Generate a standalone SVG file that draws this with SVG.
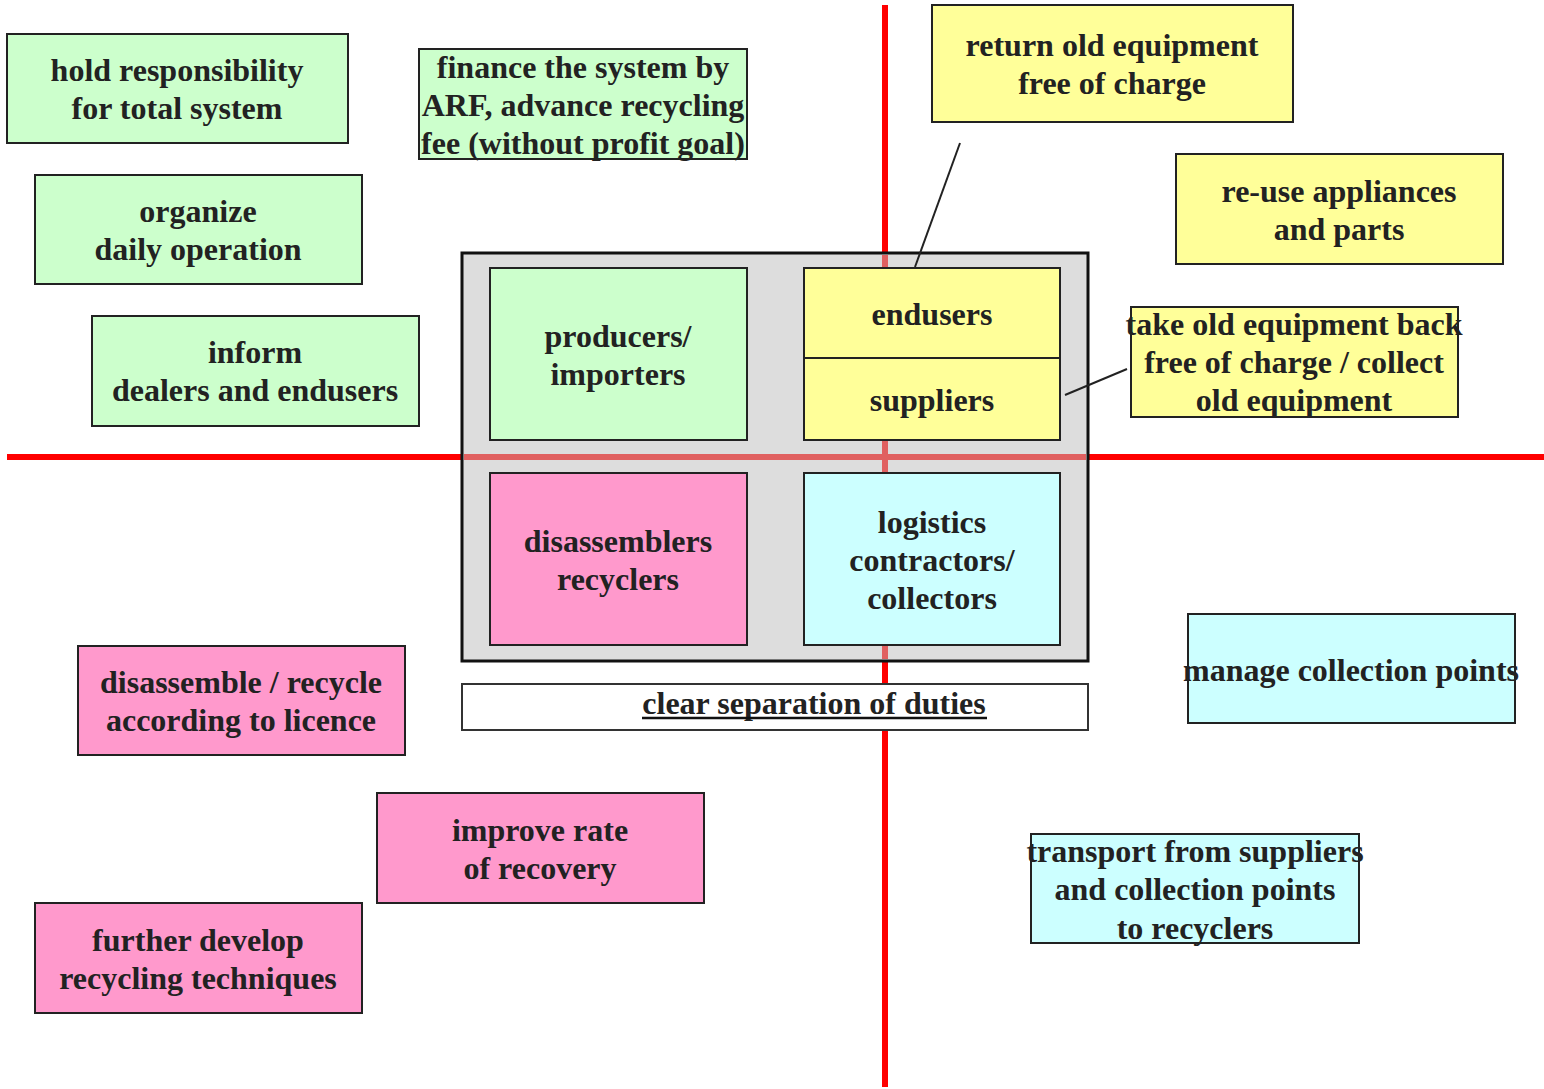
<svg xmlns="http://www.w3.org/2000/svg" width="1544" height="1089" viewBox="0 0 1544 1089">
<style>
.t{font-family:"Liberation Serif","Times New Roman",serif;font-weight:bold;font-size:32px;fill:#222;text-anchor:middle}
.box{stroke:#222;stroke-width:2}
.g{fill:#ccffcc}.y{fill:#ffff99}.p{fill:#ff99cc}.c{fill:#ccffff}
.red{stroke:#ff0000;stroke-width:6}
.redi{stroke:#e06060;stroke-width:6}
.con{stroke:#222;stroke-width:2;fill:none}
</style>
<rect width="1544" height="1089" fill="#fff"/>
<g id="axes">
<line class="red" x1="885" y1="5" x2="885" y2="1087"/>
<line class="red" x1="7" y1="457" x2="1544" y2="457"/>
</g>
<g id="center-frame">
<rect x="462" y="253" width="626" height="408" fill="#dddddd" stroke="#111" stroke-width="3"/>
<line class="redi" x1="885" y1="255" x2="885" y2="659"/>
<line class="redi" x1="464" y1="457" x2="1086" y2="457"/>
</g>
<g id="producers"><rect class="box g" x="490" y="268" width="257" height="172"/><text class="t" x="618" y="347">producers/</text><text class="t" x="618" y="385">importers</text></g>
<g id="endusers"><rect class="box y" x="804" y="268" width="256" height="90"/><text class="t" x="932" y="325">endusers</text></g>
<g id="suppliers"><rect class="box y" x="804" y="358" width="256" height="82"/><text class="t" x="932" y="411">suppliers</text></g>
<g id="disassemblers"><rect class="box p" x="490" y="473" width="257" height="172"/><text class="t" x="618" y="552">disassemblers</text><text class="t" x="618" y="590">recyclers</text></g>
<g id="logistics"><rect class="box c" x="804" y="473" width="256" height="172"/><text class="t" x="932" y="533">logistics</text><text class="t" x="932" y="571">contractors/</text><text class="t" x="932" y="609">collectors</text></g>
<g id="separation"><rect x="462" y="684" width="626" height="46" fill="#fff" stroke="#333" stroke-width="2"/><text class="t" x="814" y="714">clear separation of duties</text><line x1="642" y1="718" x2="987" y2="718" stroke="#111" stroke-width="2.5"/></g>
<g id="hold"><rect class="box g" x="7" y="34" width="341" height="109"/><text class="t" x="177" y="81">hold responsibility</text><text class="t" x="177" y="119">for total system</text></g>
<g id="finance"><rect class="box g" x="419" y="49" width="328" height="110"/><text class="t" x="583" y="78">finance the system by</text><text class="t" x="583" y="116">ARF, advance recycling</text><text class="t" x="583" y="154">fee (without profit goal)</text></g>
<g id="organize"><rect class="box g" x="35" y="175" width="327" height="109"/><text class="t" x="198" y="222">organize</text><text class="t" x="198" y="260">daily operation</text></g>
<g id="inform"><rect class="box g" x="92" y="316" width="327" height="110"/><text class="t" x="255" y="363">inform</text><text class="t" x="255" y="401">dealers and endusers</text></g>
<g id="return"><rect class="box y" x="932" y="5" width="361" height="117"/><text class="t" x="1112" y="56">return old equipment</text><text class="t" x="1112" y="94">free of charge</text></g>
<g id="reuse"><rect class="box y" x="1176" y="154" width="327" height="110"/><text class="t" x="1339" y="202">re-use appliances</text><text class="t" x="1339" y="240">and parts</text></g>
<g id="takeback"><rect class="box y" x="1131" y="307" width="327" height="110"/><text class="t" x="1294" y="335">take old equipment back</text><text class="t" x="1294" y="373">free of charge / collect</text><text class="t" x="1294" y="411">old equipment</text></g>
<g id="manage"><rect class="box c" x="1188" y="614" width="327" height="109"/><text class="t" x="1351" y="681">manage collection points</text></g>
<g id="transport"><rect class="box c" x="1031" y="834" width="328" height="109"/><text class="t" x="1195" y="862">transport from suppliers</text><text class="t" x="1195" y="900">and collection points</text><text class="t" x="1195" y="939">to recyclers</text></g>
<g id="disassemble"><rect class="box p" x="78" y="646" width="327" height="109"/><text class="t" x="241" y="693">disassemble / recycle</text><text class="t" x="241" y="731">according to licence</text></g>
<g id="improve"><rect class="box p" x="377" y="793" width="327" height="110"/><text class="t" x="540" y="841">improve rate</text><text class="t" x="540" y="879">of recovery</text></g>
<g id="further"><rect class="box p" x="35" y="903" width="327" height="110"/><text class="t" x="198" y="951">further develop</text><text class="t" x="198" y="989">recycling techniques</text></g>
<g id="connectors">
<line class="con" x1="960" y1="143" x2="915" y2="267"/>
<line class="con" x1="1127" y1="369" x2="1065" y2="395"/>
</g>
</svg>
